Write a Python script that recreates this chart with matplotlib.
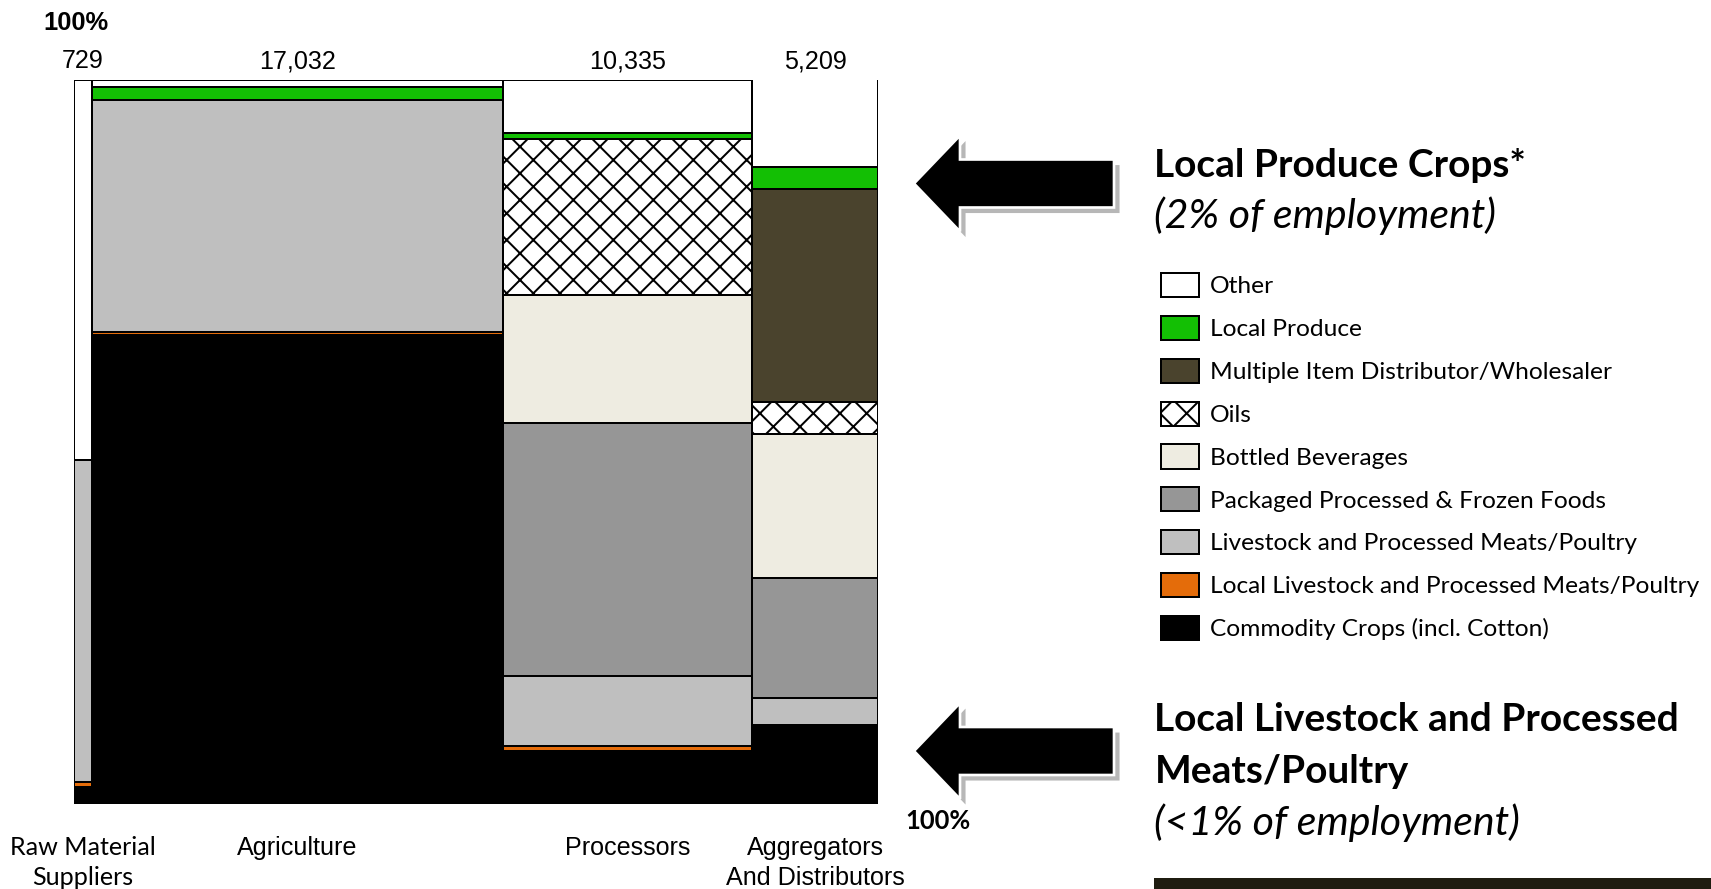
import matplotlib
matplotlib.use('Agg')
import matplotlib.pyplot as plt
import numpy as np
from matplotlib.patches import Polygon, Rectangle
from matplotlib.transforms import blended_transform_factory
import matplotlib.patheffects as pe

W, H = 1711, 889
DPI = 160

# ---------------- data ----------------
categories = ["Raw Material\nSuppliers", "Agriculture", "Processors", "Aggregators\nAnd Distributors"]
employment = [729, 17032, 10335, 5209]
employment_labels = ["729", "17,032", "10,335", "5,209"]

segment_names = [
    "Commodity Crops (incl. Cotton)",
    "Local Livestock and Processed Meats/Poultry",
    "Livestock and Processed Meats/Poultry",
    "Packaged Processed & Frozen Foods",
    "Bottled Beverages",
    "Oils",
    "Multiple Item Distributor/Wholesaler",
    "Local Produce",
    "Other",
]
# share of employment (%) per column, stacked bottom to top
commodity = [2.35, 64.69, 7.32, 10.90]
local_livestock = [0.63, 0.46, 0.73, 0.0]
livestock = [44.55, 32.02, 9.62, 3.77]
packaged = [0.0, 0.0, 34.96, 16.56]
bottled = [0.0, 0.0, 17.63, 19.83]
oils = [0.0, 0.0, 21.49, 4.38]
multiple_item = [0.0, 0.0, 0.0, 29.40]
local_produce = [0.0, 1.75, 0.91, 3.04]
other = [52.47, 1.08, 7.34, 12.12]

series = [commodity, local_livestock, livestock, packaged, bottled, oils,
          multiple_item, local_produce, other]
colors = ["#000000", "#e46c0a", "#bfbfbf", "#969696", "#eeece1", "#ffffff",
          "#4a432d", "#13bf04", "#ffffff"]
hatches = [None, None, None, None, None, "xx", None, None, None]

# ---------------- figure ----------------
plt.rcParams['hatch.linewidth'] = 0.9
fig = plt.figure(figsize=(W / DPI, H / DPI), dpi=DPI)


def fx(x):
    return x / W


def fy(y):
    return 1 - y / H


ax = fig.add_axes([fx(74), fy(804), (878 - 74) / W, (804 - 79.5) / H])

widths = np.array(employment, dtype=float)
lefts = np.concatenate([[0], np.cumsum(widths)[:-1]])
centers = lefts + widths / 2
bottom = np.zeros(len(employment))
for name, vals, col, hat in zip(segment_names, series, colors, hatches):
    vals = np.array(vals)
    bars = ax.bar(lefts, vals, width=widths, bottom=bottom, align='edge',
                  color=col, edgecolor='black', linewidth=0.9, hatch=hat)
    for p, v in zip(bars, vals):
        if v == 0:
            p.set_linewidth(0)
    bottom += vals

ax.set_xlim(0, widths.sum())
ax.set_ylim(0, 100)
ax.axis('off')

# column totals
trans = blended_transform_factory(ax.transData, fig.transFigure)
for c, lab in zip(centers, employment_labels):
    ax.text(c, fy(68), lab, transform=trans, ha='center', va='baseline',
            fontsize=11.3, family='Liberation Sans', clip_on=False)

# category labels
for c, lab in zip(centers, categories):
    fam = 'Lato' if lab.startswith('Raw') else 'Liberation Sans'
    for i, line in enumerate(lab.split('\n')):
        ax.text(c, fy(855 + i * 30), line, transform=trans, ha='center',
                va='baseline', fontsize=11.3, family=fam, clip_on=False)

fig.text(fx(43), fy(30), "100%", ha='left', va='baseline', fontsize=11.5,
         fontweight='bold', family='Liberation Sans')
fig.text(fx(905), fy(829), "100%", ha='left', va='baseline', fontsize=11.5,
         fontweight='bold', family='Lato')

# legend
handles = [Rectangle((0, 0), 1, 1, facecolor=c, edgecolor='black',
                     linewidth=0.9, hatch=h)
           for c, h in zip(colors, hatches)][::-1]
labels = segment_names[::-1]
fs_leg = 11
px_leg = fs_leg * DPI / 72
fig.legend(handles, labels, loc='upper left',
           bbox_to_anchor=(fx(1161), fy(273)), frameon=False, borderpad=0,
           borderaxespad=0, handlelength=38 / px_leg, handleheight=28 / px_leg,
           handletextpad=11 / px_leg, labelspacing=(42.8 - 28) / px_leg + 0.15,
           prop={'family': 'Lato', 'size': fs_leg})


# arrows
def arrow(cy):
    pts = [(914, cy), (960, cy - 48), (960, cy - 24), (1114, cy - 24),
           (1114, cy + 24), (960, cy + 24), (960, cy + 48)]
    poly = Polygon([(fx(x), fy(y)) for x, y in pts], closed=True,
                   transform=fig.transFigure, facecolor='black',
                   edgecolor='white', linewidth=1.2)
    poly.set_path_effects([pe.SimplePatchShadow(offset=(2.5, -2.5),
                                                shadow_rgbFace='#888888',
                                                alpha=0.6), pe.Normal()])
    fig.add_artist(poly)


arrow(183.5)
arrow(751)

fs_head = 17.5
fs_ital = 18.5
fig.text(fx(1154.5), fy(177), "Local Produce Crops*", family='Lato',
         fontweight='bold', fontsize=fs_head, va='baseline')
fig.text(fx(1154.5), fy(228), "(2% of employment)", family='Lato',
         style='italic', fontsize=fs_ital, va='baseline')
fig.text(fx(1154.5), fy(731), "Local Livestock and Processed", family='Lato',
         fontweight='bold', fontsize=fs_head, va='baseline')
fig.text(fx(1154.5), fy(783), "Meats/Poultry", family='Lato',
         fontweight='bold', fontsize=fs_head, va='baseline')
fig.text(fx(1154.5), fy(835), "(<1% of employment)", family='Lato',
         style='italic', fontsize=fs_ital, va='baseline')

# bottom dark bar
fig.add_artist(Rectangle((fx(1154), 0), 1 - fx(1154), 11 / H,
                         transform=fig.transFigure, facecolor='#1f1c10',
                         edgecolor='none'))

fig.savefig('out.png', dpi=DPI)
